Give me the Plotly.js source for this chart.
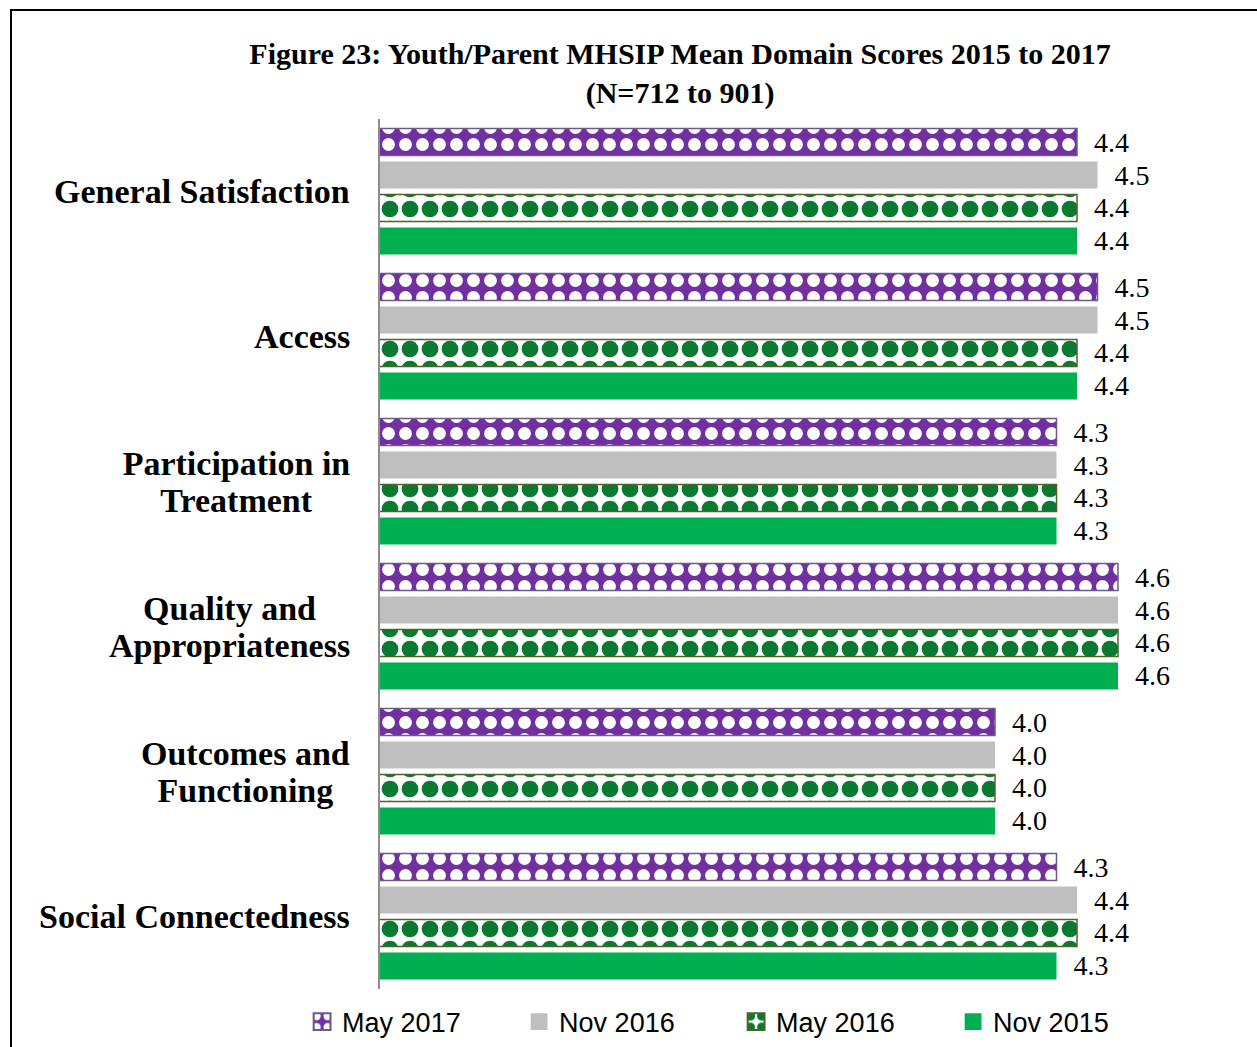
<!DOCTYPE html>
<html>
<head>
<meta charset="utf-8">
<script src="https://cdn.plot.ly/plotly-3.0.1.min.js"></script>
<style>
  html, body { margin: 0; padding: 0; overflow: hidden; background: #fff; }
  #chart { position: absolute; left: 0; top: 0; width: 1257px; height: 1047px; }
  #frame { position: absolute; left: 10px; top: 9px; width: 1400px; height: 1200px;
           border: 2px solid #000; pointer-events: none; }
</style>
</head>
<body>
<div id="chart"></div>
<div id="frame"></div>
<script>
// ---- data ----
const categories = [
  "General Satisfaction",
  "Access",
  "Participation in<br>Treatment",
  "Quality and<br>Appropriateness",
  "Outcomes and<br>Functioning",
  "Social Connectedness"
];
const seriesNames = ["May 2017", "Nov 2016", "May 2016", "Nov 2015"];
const may2017 = [4.4, 4.5, 4.3, 4.6, 4.0, 4.3];
const nov2016 = [4.5, 4.5, 4.3, 4.6, 4.0, 4.4];
const may2016 = [4.4, 4.4, 4.3, 4.6, 4.0, 4.4];
const nov2015 = [4.4, 4.4, 4.3, 4.6, 4.0, 4.3];
const titleText = "Figure 23: Youth/Parent MHSIP Mean Domain Scores 2015 to 2017<br>(N=712 to 901)";

// ---- styles ----
const labelFont = { family: "Liberation Serif, serif", size: 28, color: "#000" };
const styles = [
  { color: "#7030A0", line: { color: "#6E5A8A", width: 1.5 },
    pattern: { shape: ".", fgcolor: "#FFFFFF", bgcolor: "#7030A0", fgopacity: 1, size: 17, solidity: 0.45, fillmode: "replace" } },
  { color: "#BFBFBF", line: { width: 0 } },
  { color: "#0A7A32", line: { color: "#4F6228", width: 1.5 },
    pattern: { shape: ".", fgcolor: "#0A7A32", bgcolor: "#FFFFFF", fgopacity: 1, size: 20, solidity: 0.55, fillmode: "replace" } },
  { color: "#00B050", line: { width: 0 } }
];
const seriesValues = [may2017, nov2016, may2016, nov2015];

const traces = seriesValues.map((vals, i) => ({
  type: "bar",
  orientation: "h",
  name: seriesNames[i],
  y: categories,
  x: vals,
  marker: styles[i],
  texttemplate: "\u00a0\u00a0%{x:.1f}",
  textposition: "outside",
  constraintext: "none",
  textfont: labelFont,
  cliponaxis: false,
  hoverinfo: "skip"
}));

// category labels: each line as its own annotation, block right-aligned, lines centred
const lineGap = 37;
const catFont = { family: "Liberation Serif, serif", size: 34, color: "#000" };
const annotations = [];
categories.forEach(c => {
  const lines = c.split("<br>");
  lines.forEach((ln, k) => {
    const shift = ((lines.length - 1) / 2 - k) * lineGap;
    annotations.push({
      xref: "paper", yref: "y", x: -0.034, y: c,
      xanchor: "right", yanchor: "middle", align: "center",
      text: "<b>" + ln + "</b>", showarrow: false, yshift: shift,
      font: catFont
    });
  });
});

const layout = {
  width: 1257, height: 1047,
  paper_bgcolor: "rgba(0,0,0,0)", plot_bgcolor: "rgba(0,0,0,0)",
  margin: { l: 380, r: 57, t: 119, b: 58, autoexpand: false },
  barmode: "group", bargap: 0.09, bargroupgap: 0.18,
  title: {
    text: "<b>" + titleText + "</b>",
    xref: "container", x: 0.541, xanchor: "center",
    yref: "container", y: 0.939, yanchor: "top",
    font: { family: "Liberation Serif, serif", size: 30, color: "#000" }
  },
  xaxis: { range: [1, 5], showgrid: false, zeroline: false, showticklabels: false, ticks: "", showline: false, fixedrange: true },
  yaxis: { autorange: "reversed", showgrid: false, zeroline: false, showticklabels: false, ticks: "",
           showline: true, linecolor: "#8C8C8C", linewidth: 2, fixedrange: true },
  annotations: annotations,
  showlegend: true,
  legend: {
    orientation: "h", x: -0.095, xanchor: "left",
    y: -0.038, yanchor: "middle",
    font: { family: "Liberation Sans, Arial, sans-serif", size: 27, color: "#000" },
    entrywidth: 172, traceorder: "normal", bgcolor: "rgba(0,0,0,0)"
  }
};

Plotly.newPlot("chart", traces, layout, { displayModeBar: false, staticPlot: true }).then(gd => {
  // centre the lines of multi-line category labels on each other
  const anns = gd.querySelectorAll(".annotation");
  let idx = 0;
  categories.forEach(c => {
    const lines = c.split("<br>");
    if (lines.length > 1) {
      const rects = [];
      for (let k = 0; k < lines.length; k++) {
        rects.push(anns[idx + k].querySelector("text").getBoundingClientRect());
      }
      const right = Math.max(...rects.map(r => r.right));
      const widest = Math.max(...rects.map(r => r.width));
      const centre = right - widest / 2;
      for (let k = 0; k < lines.length; k++) {
        const r = rects[k];
        const dx = centre - (r.left + r.width / 2);
        const g = anns[idx + k];
        const prev = g.getAttribute("transform") || "";
        g.setAttribute("transform", "translate(" + dx + ",0) " + prev);
      }
    }
    idx += lines.length;
  });
  // larger legend swatches
  gd.querySelectorAll(".legend .legendpoints path").forEach(p => {
    const prev = p.getAttribute("transform") || "";
    p.setAttribute("transform", prev + " scale(1.4)");
  });
});
</script>
</body>
</html>
